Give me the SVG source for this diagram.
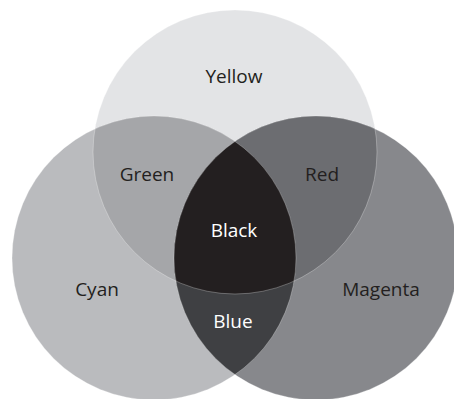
<svg xmlns="http://www.w3.org/2000/svg" width="454" height="399" viewBox="0 0 454 399">
<style>
text{font-family:"Open Sans","Noto Sans","Liberation Sans",sans-serif;font-size:19px;text-anchor:middle}
.dk{fill:#231f20}
.lt{fill:#ffffff}
.edge{fill:none;stroke:#ffffff;stroke-opacity:0.35;stroke-width:0.8}
</style>
<defs>
<clipPath id="cY"><circle cx="235" cy="152" r="142"/></clipPath>
<clipPath id="cC"><circle cx="154" cy="258" r="142"/></clipPath>
<clipPath id="cM"><circle cx="316" cy="258" r="142"/></clipPath>
</defs>
<rect width="454" height="399" fill="#ffffff"/>
<g id="yellow">
<circle cx="235" cy="152" r="142" fill="#e3e4e6"/>
<text class="dk" x="234" y="83">Yellow</text>
</g>
<g id="cyan">
<circle cx="154" cy="258" r="142" fill="#babbbe"/>
<text class="dk" x="97" y="296">Cyan</text>
</g>
<g id="magenta">
<circle cx="316" cy="258" r="142" fill="#87888c"/>
<text class="dk" x="381" y="296">Magenta</text>
</g>
<g id="green">
<g clip-path="url(#cY)"><circle cx="154" cy="258" r="142" fill="#a5a6a9"/></g>
<text class="dk" x="147" y="181">Green</text>
</g>
<g id="red">
<g clip-path="url(#cY)"><circle cx="316" cy="258" r="142" fill="#6c6d71"/></g>
<text class="dk" x="322" y="181">Red</text>
</g>
<g id="blue">
<g clip-path="url(#cC)"><circle cx="316" cy="258" r="142" fill="#3f4043"/></g>
<text class="lt" x="233" y="328">Blue</text>
</g>
<g id="black">
<g clip-path="url(#cC)"><g clip-path="url(#cM)"><circle cx="235" cy="152" r="142" fill="#231f20"/></g></g>
<text class="lt" x="234" y="237">Black</text>
</g>
<g id="edges">
<circle class="edge" cx="235" cy="152" r="142"/>
<circle class="edge" cx="154" cy="258" r="142"/>
<circle class="edge" cx="316" cy="258" r="142"/>
</g>
</svg>
